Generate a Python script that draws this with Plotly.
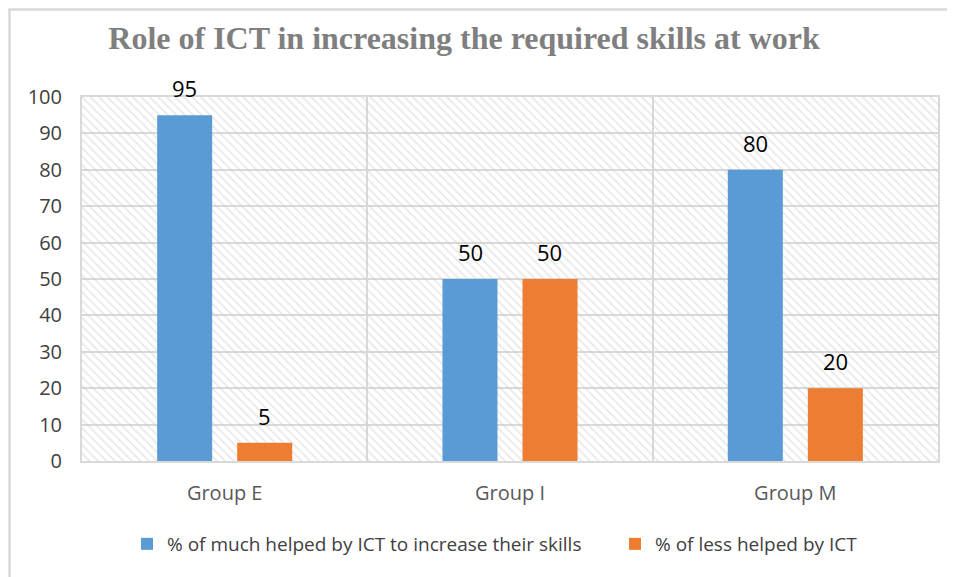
import plotly.graph_objects as go

categories = ["Group E", "Group I", "Group M"]
much_helped = [95, 50, 80]
less_helped = [5, 50, 20]
series_names = ["% of much helped by ICT to increase their skills", "% of less helped by ICT"]
y_ticks = [0, 10, 20, 30, 40, 50, 60, 70, 80, 90, 100]

BLUE = "#5b9bd5"
ORANGE = "#ed7d31"
GRID = "#d9d9d9"
TXT = "#595959"
FONT = "Open Sans"

fig = go.Figure()

# hatched plot background (on the base subplot, beneath the bars)
fig.add_trace(go.Bar(
    x=[1.5], y=[max(y_ticks)], width=[3], xaxis="x", yaxis="y",
    marker=dict(color="rgba(0,0,0,0)", line=dict(width=0),
                pattern=dict(shape="\\", fgcolor="#cccccc", bgcolor="rgba(0,0,0,0)",
                             size=6, solidity=0.25)),
    showlegend=False, hoverinfo="skip",
))

fig.add_trace(go.Bar(
    x=categories, y=much_helped, name=series_names[0], xaxis="x2", yaxis="y",
    marker=dict(color=BLUE, line=dict(width=0)), legend="legend",
))
fig.add_trace(go.Bar(
    x=categories, y=less_helped, name=series_names[1], xaxis="x2", yaxis="y",
    marker=dict(color=ORANGE, line=dict(width=0)), legend="legend2",
))

# page is offset by 8px (body margin); plot area target: x 82-938, y 97-461
L, T = 74, 89
W, H = 856, 364

legend_common = dict(orientation="h", xanchor="left", yanchor="middle", y=-(544 - 461) / H,
                     font=dict(size=19, color="#404040", family=FONT), itemwidth=30,
                     bgcolor="rgba(0,0,0,0)")

fig.update_layout(
    width=955, height=577,
    margin=dict(l=L, r=955 - L - W, t=T, b=577 - T - H, autoexpand=False),
    paper_bgcolor="white", plot_bgcolor="white",
    barmode="group", bargap=0.439, bargroupgap=0.3125,
    font=dict(family=FONT, color=TXT, size=16),
    title=dict(text="<b>Role of ICT in increasing the required skills at work</b>",
               font=dict(family="Liberation Serif", size=32, color="#7f7f7f"),
               x=(464 - 8) / 955, xref="container", xanchor="center",
               y=1 - 30 / 577, yref="container", yanchor="middle"),
    xaxis=dict(range=[0, 3], showgrid=True, dtick=1, tick0=0, gridcolor=GRID, gridwidth=1.5,
               showticklabels=False, zeroline=False, showline=True, linecolor=GRID, linewidth=2,
               mirror=True, fixedrange=True),
    xaxis2=dict(overlaying="x", anchor="y", side="bottom", type="category",
                range=[-0.5, 2.5], showgrid=False, showline=False, zeroline=False,
                tickfont=dict(size=20, color=TXT), ticks="", ticklabelstandoff=18),
    yaxis=dict(range=[0, 100], tickvals=y_ticks, showgrid=True, gridcolor=GRID, gridwidth=1.5,
               zeroline=False, showline=True, linecolor=GRID, linewidth=2, mirror=True,
               tickfont=dict(size=20, color="#404040"), ticks="", ticklabelstandoff=14),
    legend=dict(x=(127 - 82) / W, **legend_common),
    legend2=dict(x=(615 - 82) / W, **legend_common),
    shapes=[dict(type="rect", xref="paper", yref="paper",
                 x0=-(82 - 9.5) / W, x1=1.2, y0=-0.5, y1=1 + (97 - 9.5) / H,
                 line=dict(color=GRID, width=2.5), fillcolor="rgba(0,0,0,0)", layer="below")],
)

for vals, xs in ((much_helped, -0.14), (less_helped, 0.14)):
    for i, v in enumerate(vals):
        fig.add_annotation(x=i + xs, y=v, xref="x2", yref="y", text=str(v), showarrow=False,
                           yshift=27, font=dict(size=22, color="black", family=FONT))

fig.write_html("out.html")
